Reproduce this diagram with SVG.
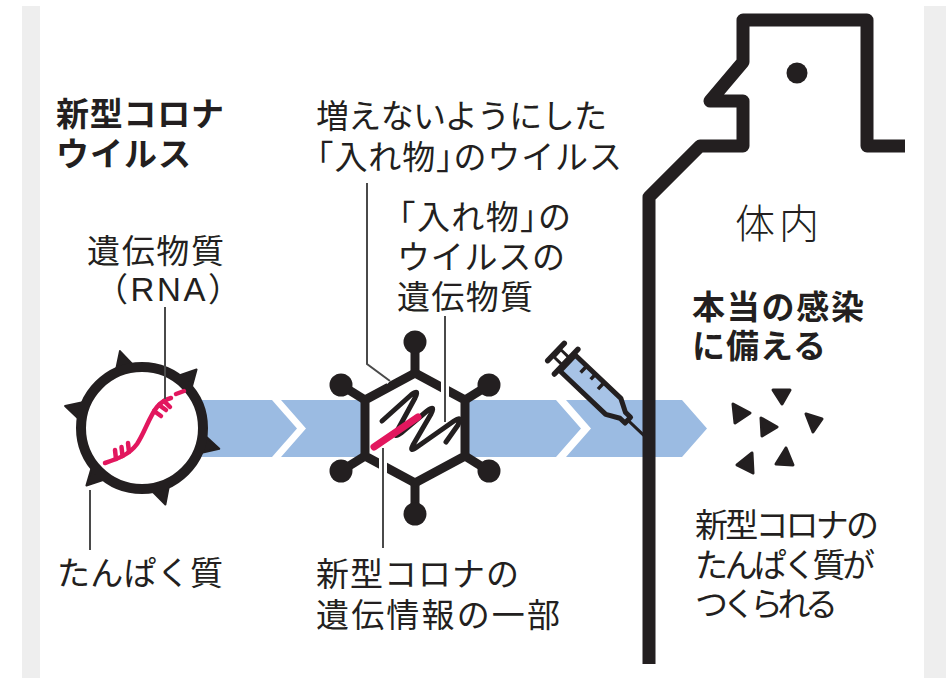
<svg xmlns="http://www.w3.org/2000/svg" width="946" height="678" viewBox="0 0 946 678">
<style>
  .t { font-family: "Liberation Sans", "Noto Sans CJK JP", "Noto Sans CJK SC", sans-serif; font-size: 33px; fill: #231f20; }
  .b { font-weight: 700; }
  .br { font-feature-settings: "halt"; }
  .lead { stroke: #4a4a4a; stroke-width: 2; fill: none; }
  .halo { stroke: #ffffff; stroke-width: 8; fill: none; }
  .band { fill: #9bbbe2; }
  .ink { fill: #231f20; }
  .rna { stroke: #e2175e; stroke-width: 4.5; fill: none; stroke-linecap: round; }
</style>
<defs>
  <!-- spike protein: base sits under the envelope stroke, tip points outward -->
  <path id="spike" d="M61,-10 L80,0 L61,10 Z"/>
</defs>

<rect width="946" height="678" fill="#ffffff"/>
<rect x="22" y="6" width="18" height="672" fill="#eeeeee"/>
<rect x="924" y="6" width="22" height="672" fill="#eeeeee"/>

<!-- chevron flow band -->
<g id="flow-band" class="band">
  <path d="M150,400 L272,400 L297,428.5 L272,457 L150,457 Z"/>
  <path d="M281,400 L556,400 L581,428.5 L556,457 L281,457 L306,428.5 Z"/>
  <path d="M566,400 L682,400 L707,428.5 L682,457 L566,457 L591,428.5 Z"/>
</g>

<!-- novel coronavirus -->
<g id="corona-virus">
  <g fill="#231f20" stroke="#231f20" stroke-width="2" stroke-linejoin="round">
    <use href="#spike" transform="translate(142,428) rotate(-106)"/>
    <use href="#spike" transform="translate(142,428) rotate(-47)"/>
    <use href="#spike" transform="translate(142,428) rotate(196)"/>
    <use href="#spike" transform="translate(142,428) rotate(15)"/>
    <use href="#spike" transform="translate(142,428) rotate(134)"/>
    <use href="#spike" transform="translate(142,428) rotate(73)"/>
  </g>
  <circle cx="142" cy="428" r="61" fill="#ffffff" stroke="#231f20" stroke-width="10"/>
  <path class="rna" d="M105,463 C117,459 129,455 137,444 C145,432 149,417 157,407 C162,401 167,399 171,398"/>
  <path class="rna" d="M176,394 L184,391"/>
  <path class="rna" stroke-width="3.5" d="M116,459 L115,450 M122.5,456 L121.5,447 M129,452 L128,443 M154,411 L161,416 M159,405 L166,410 M164,401 L170,407"/>
</g>

<!-- vector (container) virus -->
<g id="vector-virus">
  <g stroke="#231f20" stroke-width="9">
    <line x1="415" y1="373" x2="415" y2="342"/>
    <line x1="465" y1="400" x2="489" y2="385"/>
    <line x1="465" y1="456" x2="489" y2="471"/>
    <line x1="415" y1="483" x2="415" y2="514"/>
    <line x1="365" y1="456" x2="341" y2="471"/>
    <line x1="365" y1="400" x2="341" y2="385"/>
  </g>
  <g class="ink">
    <circle cx="415" cy="342" r="11.5"/>
    <circle cx="489" cy="385" r="11.5"/>
    <circle cx="489" cy="471" r="11.5"/>
    <circle cx="415" cy="514" r="11.5"/>
    <circle cx="341" cy="471" r="11.5"/>
    <circle cx="341" cy="385" r="11.5"/>
  </g>
  <polygon points="415,373 465,400 465,456 415,483 365,456 365,400" fill="#ffffff" stroke="#231f20" stroke-width="9"/>
  <path d="M382,421 L411,395 Q420,388 415,398 L397,431 Q393,439 401,433 L427,411 Q436,404 431,414 L413,445 Q409,453 417,447 L454,421 Q463,415 458,425 L446,442" fill="none" stroke="#231f20" stroke-width="5" stroke-linejoin="round" stroke-linecap="round"/>
  <path d="M374,447 L418,417" fill="none" stroke="#e2175e" stroke-width="7" stroke-linecap="round"/>
</g>

<!-- syringe -->
<g id="syringe" transform="translate(556,352) rotate(43.5)" stroke="#231f20" stroke-linejoin="round">
  <line x1="0" y1="-12" x2="0" y2="12" stroke-width="5.5" stroke-linecap="round"/>
  <rect x="2" y="-5" width="11" height="10" fill="#ffffff" stroke-width="3"/>
  <line x1="14" y1="-17" x2="14" y2="17" stroke-width="5.5" stroke-linecap="round"/>
  <path d="M16,-11 L79,-11 L92,-4 L99,-4 L99,4 L92,4 L79,11 L16,11 Z" fill="#a7c3e6" stroke-width="5"/>
  <path d="M32,-11 L32,-2 M44,-11 L44,-4 M56,-11 L56,-2" stroke-width="3.5" fill="none"/>
  <line x1="99" y1="0" x2="124" y2="0" stroke-width="3" stroke-linecap="round"/>
</g>

<!-- human body outline -->
<g id="body">
  <path d="M905,146 L867,146 L867,20 L743,20 L743,62 L710,101 L743,101 L743,146 L700,146 L649,197 L649,664" fill="none" stroke="#231f20" stroke-width="13" stroke-linejoin="round"/>
  <circle cx="797" cy="73" r="10.5" class="ink"/>
</g>

<!-- spike proteins produced in the body -->
<g id="proteins" fill="#231f20" stroke="#231f20" stroke-width="3" stroke-linejoin="round">
  <polygon points="773,390 790,390 782,404"/>
  <polygon points="733,404 750,413 735,423"/>
  <polygon points="761,418 777,427 762,436"/>
  <polygon points="806,414 822,419 813,432"/>
  <polygon points="752,453 737,465 753,473"/>
  <polygon points="786,448 776,464 793,465"/>
</g>

<!-- leader lines -->
<g id="connectors">
  <line class="lead" x1="165" y1="307" x2="165" y2="399"/>
  <line class="lead" x1="90" y1="490" x2="90" y2="550"/>
  <path class="halo" d="M381,373 L390,381"/>
  <polyline class="lead" points="367,183 367,364 390,381"/>
  <line class="halo" x1="445" y1="375" x2="445" y2="397"/>
  <line class="lead" x1="445" y1="316" x2="445" y2="422"/>
  <line class="halo" x1="383" y1="456" x2="383" y2="477"/>
  <line class="lead" x1="383" y1="448" x2="383" y2="548"/>
</g>

<!-- labels: one text per label block, lines as tspans -->
<g id="label-corona">
  <text class="t b"><tspan x="56" y="126" textLength="168">新型コロナ</tspan><tspan x="56" y="166" textLength="135">ウイルス</tspan></text>
</g>
<g id="label-rna">
  <text class="t"><tspan x="87" y="263" textLength="137">遺伝物質</tspan><tspan x="95" y="301" textLength="146">（RNA）</tspan></text>
</g>
<g id="label-protein">
  <text class="t" x="57" y="585" textLength="166">たんぱく質</text>
</g>
<g id="label-vector">
  <text class="t"><tspan x="316" y="128" textLength="291">増えないようにした</tspan><tspan x="317" y="169" textLength="305"><tspan class="br">「</tspan>入れ物<tspan class="br">」</tspan>のウイルス</tspan></text>
</g>
<g id="label-vector-gene">
  <text class="t"><tspan x="399" y="229" textLength="172"><tspan class="br">「</tspan>入れ物<tspan class="br">」</tspan>の</tspan><tspan x="397" y="269" textLength="168">ウイルスの</tspan><tspan x="397" y="309" textLength="136">遺伝物質</tspan></text>
</g>
<g id="label-gene-part">
  <text class="t"><tspan x="316" y="586" textLength="203">新型コロナの</tspan><tspan x="316" y="627" textLength="244">遺伝情報の一部</tspan></text>
</g>
<g id="label-inside">
  <text class="t" x="735" y="238" style="font-size:40px;font-weight:300" textLength="84">体内</text>
</g>
<g id="label-prepare">
  <text class="t b"><tspan x="692" y="319" textLength="172">本当の感染</tspan><tspan x="692" y="358" textLength="134">に備える</tspan></text>
</g>
<g id="label-made">
  <text class="t"><tspan x="695" y="537" textLength="184">新型コロナの</tspan><tspan x="695" y="577" textLength="180">たんぱく質が</tspan><tspan x="695" y="616" textLength="143">つくられる</tspan></text>
</g>
</svg>
